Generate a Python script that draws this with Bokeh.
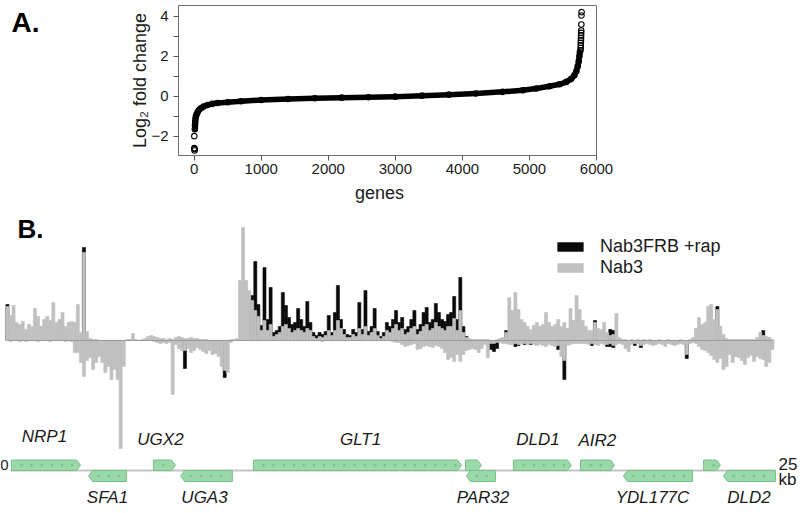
import numpy as np
from bokeh.plotting import figure
from bokeh.layouts import column, row
from bokeh.models import (Label, FixedTicker, Legend, LegendItem, Range1d, ColumnDataSource,
                          LinearAxis)
from bokeh.embed import file_html
from bokeh.resources import INLINE

FONT = "Liberation Sans"

# ---------------- Panel A data (genes ranked by log2 fold change) ----------------
rank_curve = [10, 12, 15, 19, 25, 35, 50, 70, 100, 140, 200, 270, 350, 500, 700, 1000,
              1400, 1800, 2200, 2600, 3000, 3400, 3800, 4200, 4600, 4900, 5100, 5300,
              5450, 5550, 5620, 5670, 5700, 5720, 5735, 5745, 5752]
lfc_curve = [-1.65, -1.45, -1.3, -1.15, -1.02, -0.92, -0.8, -0.7, -0.6, -0.51, -0.44, -0.38,
             -0.34, -0.30, -0.25, -0.19, -0.14, -0.10, -0.07, -0.05, -0.02, 0.03, 0.08, 0.14,
             0.22, 0.30, 0.39, 0.50, 0.60, 0.72, 0.86, 1.05, 1.25, 1.5, 1.75, 2.0, 2.2]
rank_tail = [2, 4, 5, 6, 5762, 5764, 5766, 5767, 5768, 5769, 5770, 5771, 5772, 5774, 5776, 5778]
lfc_tail = [-2.0, -2.6, -2.65, -2.72, 2.3, 2.42, 2.55, 2.68, 2.8, 2.92, 3.05, 3.18, 3.3, 3.6, 4.05, 4.22]
x_ticks = [0, 1000, 2000, 3000, 4000, 5000, 6000]
y_ticks = [-2, 0, 2, 4]
y_minor_ticks = [-1, 1, 3]

# ---------------- Panel B data (signal per 0.1 kb bin, arbitrary units) ----------------
gray_top = [34, 25, 35, 18, 16, 19, 11, 16, 14, 32,
            24, 14, 21, 24, 20, 38, 18, 21, 28, 14,
            18, 19, 18, 36, 8, 88, 9, 2, 1, 1,
            0, 0, 0, 0, 0, 0, 0, 0, 0, 1,
            1, 7, 1, 0, 1, 2, 4, 5, 4, 3,
            2, 2, 1, 2, 1, 3, 4, 3, 2, 2,
            3, 2, 2, 1, 1, 1, 0, 0, 0, 0,
            0, 0, 0, 1, 1, 2, 60, 113, 60, 50,
            40, 30, 24, 10, 20, 10, 16, 4, 6, 8,
            14, 16, 12, 8, 10, 12, 10, 8, 12, 10,
            4, 2, 4, 3, 5, 10, 5, 10, 20, 12,
            6, 3, 3, 6, 4, 12, 6, 14, 5, 8,
            12, 5, 2, 4, 10, 8, 12, 16, 10, 12,
            6, 8, 12, 14, 6, 9, 14, 16, 10, 12,
            18, 14, 12, 10, 14, 14, 22, 10, 30, 8,
            3, 2, 1, 1, 1, 1, 1, 1, 0, 0,
            1, 2, 3, 8, 43, 30, 48, 31, 21, 18,
            14, 11, 15, 18, 14, 16, 28, 18, 14, 16,
            21, 14, 18, 12, 32, 20, 45, 31, 20, 14,
            10, 10, 18, 12, 11, 18, 8, 5, 6, 27,
            3, 1, 1, 0, 1, 0, 1, 0, 1, 0,
            1, 0, 0, 1, 0, 0, 1, 0, 0, 0,
            1, 0, 0, 1, 3, 12, 23, 16, 18, 34,
            36, 21, 31, 14, 6, 2, 1, 1, 1, 1,
            1, 1, 1, 1, 1, 3, 8, 5, 4, 3,
            1]
gray_bot = [0, 1, 0, 0, 1, 0, 1, 0, 0, 0,
            1, 0, 0, 0, 1, 0, 0, 0, 0, 1,
            0, 1, 12, 12, 22, 36, 20, 17, 29, 22,
            16, 22, 32, 26, 39, 29, 39, 108, 26, 0,
            0, 0, 0, 0, 0, 0, 0, 0, 1, 2,
            3, 2, 3, 2, 54, 4, 8, 10, 10, 8,
            12, 10, 7, 9, 11, 13, 10, 14, 13, 16,
            26, 30, 32, 2, 0, 0, 0, 0, 0, 0,
            0, 0, 0, 0, 0, 0, 0, 0, 0, 0,
            0, 0, 0, 0, 0, 0, 0, 0, 0, 0,
            0, 0, 0, 1, 0, 0, 0, 0, 0, 0,
            0, 0, 0, 0, 0, 0, 0, 0, 0, 0,
            0, 0, 0, 0, 0, 0, 1, 2, 2, 4,
            6, 5, 4, 3, 9, 8, 6, 5, 6, 7,
            5, 6, 8, 12, 19, 17, 21, 14, 21, 14,
            10, 9, 8, 9, 12, 8, 4, 17, 3, 3,
            2, 2, 3, 3, 4, 4, 3, 4, 3, 3,
            4, 3, 4, 5, 4, 5, 6, 4, 5, 6,
            5, 16, 20, 5, 4, 3, 3, 3, 3, 3,
            4, 3, 4, 5, 3, 4, 4, 3, 5, 4,
            3, 4, 8, 11, 4, 3, 3, 5, 4, 3,
            4, 5, 4, 3, 4, 6, 3, 4, 5, 4,
            3, 4, 14, 3, 2, 3, 6, 9, 10, 12,
            15, 19, 22, 18, 29, 26, 14, 22, 16, 17,
            20, 24, 17, 15, 21, 16, 18, 19, 26, 22,
            9]
black_top = [36, 0, 0, 0, 0, 0, 0, 0, 0, 0,
             0, 0, 0, 0, 0, 0, 0, 0, 0, 0,
             0, 0, 0, 0, 0, 93, 0, 0, 0, 0,
             0, 0, 0, 0, 0, 0, 0, 0, 0, 0,
             0, 0, 0, 0, 0, 0, 0, 0, 0, 0,
             0, 0, 0, 0, 0, 0, 0, 0, 0, 0,
             0, 0, 0, 0, 0, 0, 0, 0, 0, 0,
             0, 0, 0, 0, 0, 0, 0, 0, 0, 0,
             45, 79, 36, 15, 73, 21, 53, 8, 10, 14,
             48, 35, 23, 16, 18, 32, 21, 14, 39, 18,
             8, 5, 8, 6, 9, 25, 8, 28, 55, 21,
             11, 6, 5, 11, 8, 38, 11, 50, 9, 14,
             32, 9, 4, 8, 18, 14, 21, 30, 18, 23,
             11, 14, 21, 30, 11, 16, 28, 33, 18, 21,
             37, 28, 21, 19, 26, 28, 44, 21, 63, 14,
             4, 0, 0, 0, 0, 0, 0, 0, 0, 0,
             0, 0, 0, 10, 0, 0, 0, 0, 0, 0,
             0, 0, 0, 0, 0, 0, 0, 0, 0, 0,
             0, 0, 0, 0, 0, 0, 0, 0, 0, 0,
             0, 0, 20, 0, 0, 0, 0, 11, 10, 0,
             0, 0, 0, 0, 0, 0, 0, 0, 0, 0,
             0, 0, 0, 0, 0, 0, 0, 0, 0, 0,
             0, 0, 0, 0, 0, 0, 0, 0, 0, 0,
             0, 0, 34, 0, 0, 0, 0, 0, 0, 0,
             0, 0, 0, 0, 0, 0, 0, 10, 0, 0,
             0]
black_bot = [0, 0, 0, 0, 0, 0, 0, 0, 0, 0,
             0, 0, 0, 0, 0, 0, 0, 0, 0, 0,
             0, 0, 0, 0, 0, 0, 0, 0, 0, 0,
             0, 0, 0, 0, 0, 0, 0, 0, 0, 0,
             0, 0, 0, 0, 0, 0, 0, 0, 0, 0,
             0, 0, 0, 0, 0, 0, 0, 0, 28, 0,
             0, 0, 0, 0, 0, 0, 0, 0, 0, 0,
             0, 37, 0, 0, 0, 0, 0, 0, 0, 0,
             0, 0, 0, 0, 0, 0, 0, 0, 0, 0,
             0, 0, 0, 0, 0, 0, 0, 0, 0, 0,
             0, 0, 0, 0, 0, 0, 0, 0, 0, 0,
             0, 0, 0, 0, 0, 0, 0, 0, 0, 0,
             0, 0, 0, 0, 0, 0, 0, 0, 0, 0,
             0, 0, 0, 0, 0, 0, 0, 0, 0, 0,
             0, 0, 0, 0, 0, 0, 0, 0, 0, 0,
             0, 0, 0, 0, 0, 0, 0, 0, 9, 11,
             8, 0, 0, 0, 0, 0, 6, 5, 0, 4,
             0, 4, 0, 0, 0, 0, 0, 0, 0, 0,
             9, 0, 39, 0, 0, 0, 0, 0, 0, 0,
             0, 5, 0, 0, 0, 0, 6, 6, 7, 0,
             0, 0, 0, 0, 0, 5, 0, 7, 0, 0,
             0, 0, 0, 0, 0, 0, 0, 0, 0, 0,
             0, 0, 18, 0, 0, 0, 0, 0, 0, 0,
             0, 0, 0, 0, 0, 0, 0, 0, 0, 0,
             0, 0, 0, 0, 0, 0, 0, 0, 0, 0,
             0]
bin_start_kb = -0.1
bin_kb = 0.1

gene_names = ["NRP1", "SFA1", "UGX2", "UGA3", "GLT1", "", "PAR32", "DLD1", "AIR2", "YDL177C", "", "DLD2"]
gene_start = [0.03, 2.55, 4.67, 5.56, 7.94, 14.87, 14.90, 16.44, 18.63, 20.03, 22.65, 23.30]
gene_end = [2.29, 3.79, 5.39, 7.25, 14.74, 15.39, 15.85, 18.33, 19.74, 22.29, 23.20, 25.0]
gene_strand = ["+", "-", "+", "-", "+", "+", "-", "+", "+", "-", "+", "-"]
label_kb = [1.11, 3.17, 4.90, 6.34, 11.44, None, 15.44, 17.24, 19.18, 20.98, None, 24.13]
region_kb = [0, 25]

# ======================= Panel A =======================
pA = figure(width=800, height=210, x_range=Range1d(-234, 6000), y_range=Range1d(-2.97, 4.55),
            output_backend="svg", toolbar_location=None,
            min_border_left=178, min_border_right=204, min_border_top=5, min_border_bottom=55)
pA.grid.visible = False
pA.outline_line_color = "#6f6f6f"
pA.outline_line_width = 1
pA.background_fill_color = "white"
pA.border_fill_color = "white"
pA.xaxis.ticker = FixedTicker(ticks=x_ticks, minor_ticks=[])
pA.yaxis.ticker = FixedTicker(ticks=y_ticks, minor_ticks=y_minor_ticks)
for ax in (pA.xaxis[0], pA.yaxis[0]):
    ax.axis_line_color = None
    ax.major_tick_line_color = "#555555"
    ax.minor_tick_line_color = "#555555"
    ax.major_tick_out = 5
    ax.major_tick_in = 0
    ax.minor_tick_out = 5
    ax.minor_tick_in = 0
    ax.major_label_text_font = FONT
    ax.major_label_text_font_size = "15px"
    ax.major_label_text_color = "#1a1a1a"
pA.xaxis[0].major_label_standoff = 3
pA.yaxis[0].major_label_standoff = 5
pA.yaxis[0].axis_label = "Log\u2082 fold change"
pA.yaxis[0].axis_label_text_font = FONT
pA.yaxis[0].axis_label_text_font_size = "18px"
pA.yaxis[0].axis_label_text_font_style = "normal"
pA.yaxis[0].axis_label_text_color = "#1a1a1a"
pA.yaxis[0].axis_label_standoff = -2

# "genes" label carried by a second, tick-less x axis
genes_axis = LinearAxis(ticker=FixedTicker(ticks=[2764], minor_ticks=[]),
                        major_label_overrides={2764: "genes"},
                        major_label_text_font=FONT, major_label_text_font_size="18px",
                        major_label_text_color="#1a1a1a", major_label_standoff=0,
                        axis_line_color=None, major_tick_line_color=None,
                        minor_tick_line_color=None)
pA.add_layout(genes_axis, "below")

# "A." panel tag carried by a second, tick-less y axis
tag_axis = LinearAxis(ticker=FixedTicker(ticks=[3.7], minor_ticks=[]),
                      major_label_overrides={3.7: "A."},
                      major_label_text_font=FONT, major_label_text_font_size="28px",
                      major_label_text_font_style="bold", major_label_text_color="black",
                      major_label_standoff=82,
                      axis_line_color=None, major_tick_line_color=None,
                      minor_tick_line_color=None)
pA.add_layout(tag_axis, "left")

pA.line(rank_curve, lfc_curve, line_width=5.5, line_color="black", line_join="round", line_cap="round")
pA.scatter(rank_curve, lfc_curve, marker="circle", size=5.5, fill_color=None,
           line_color="black", line_width=1.1)
pA.scatter(rank_tail, lfc_tail, marker="circle", size=5.5, fill_color=None,
           line_color="black", line_width=1.1)


def make_label(text, x, y, size, **kw):
    opts = dict(text_font=FONT, text_font_size=size, text_color="#1a1a1a")
    opts.update(kw)
    return Label(x=x, y=y, text=text, **opts)


# ======================= Panel B =======================
pB = figure(width=800, height=303, x_range=Range1d(-0.3268, 25.817), y_range=Range1d(-173, 130),
            output_backend="svg", toolbar_location=None,
            min_border_left=0, min_border_right=0, min_border_top=0, min_border_bottom=0)
pB.axis.visible = False
pB.grid.visible = False
pB.outline_line_color = None
pB.background_fill_color = "white"
pB.border_fill_color = "white"

pos_kb = [round(bin_start_kb + i * bin_kb, 3) for i in range(len(gray_top))]
src = ColumnDataSource(dict(x=pos_kb, gt=gray_top, gb=[-v for v in gray_bot],
                            bt=black_top, bb=[-v for v in black_bot]))
GRAY = "#c0c0c0"
rb1 = pB.vbar(x="x", top="bt", bottom=0, width=bin_kb, source=src,
              fill_color="#0a0a0a", line_color="#0a0a0a", line_width=0.6)
pB.vbar(x="x", top=0, bottom="bb", width=bin_kb, source=src,
        fill_color="#0a0a0a", line_color="#0a0a0a", line_width=0.6)
rg1 = pB.vbar(x="x", top="gt", bottom=0, width=bin_kb, source=src,
              fill_color=GRAY, line_color=GRAY, line_width=0.6)
pB.vbar(x="x", top=0, bottom="gb", width=bin_kb, source=src,
        fill_color=GRAY, line_color=GRAY, line_width=0.6)
pB.line([pos_kb[0], pos_kb[-1]], [0, 0], line_color="#9a9a9a", line_width=1)

legend = Legend(items=[LegendItem(label="Nab3FRB +rap", renderers=[rb1]),
                       LegendItem(label="Nab3", renderers=[rg1])],
                location=(554, 235), orientation="vertical",
                glyph_width=32, glyph_height=11, label_standoff=14,
                label_text_font=FONT, label_text_font_size="18px", label_text_color="#1a1a1a",
                label_height=21, spacing=0, padding=0, margin=0,
                border_line_color=None, background_fill_alpha=0)
pB.add_layout(legend)

# gene track
ROW_TOP = (-119.5, -130.0)
ROW_BOT = (-130.0, -141.0)
TIP = 0.13
pB.line(region_kb, [-130, -130], line_color="#c4c4c4", line_width=2)
xs, ys = [], []
mx, my, ma = [], [], []
for s, e, st in zip(gene_start, gene_end, gene_strand):
    if st == "+":
        lo, hi = ROW_TOP[1], ROW_TOP[0]
        mid = (lo + hi) / 2
        xs.append([s, e - TIP, e, e - TIP, s])
        ys.append([lo, lo, mid, hi, hi])
        ang = -np.pi / 2
    else:
        lo, hi = ROW_BOT[1], ROW_BOT[0]
        mid = (lo + hi) / 2
        xs.append([s, s + TIP, e, e, s + TIP])
        ys.append([mid, hi, hi, lo, lo])
        ang = np.pi / 2
    for m in np.arange(s + 0.33, e - 0.2, 0.33):
        mx.append(m)
        my.append(mid)
        ma.append(ang)
pB.patches(xs, ys, fill_color="#9ad8a8", line_color="#74c28a", line_width=1)
pB.scatter(mx, my, marker="triangle", size=3.5, angle=ma, fill_color="#5fae74",
           line_color=None, fill_alpha=0.6)

for name, lx, st in zip(gene_names, label_kb, gene_strand):
    if not name:
        continue
    if st == "+":
        yy = {"NRP1": -105, "AIR2": -109}.get(name, -108)
    else:
        yy = -166.5
    pB.add_layout(make_label(name, lx, yy, "17px", text_font_style="italic", text_align="center"))

pB.add_layout(make_label("B.", 0.229, 97, "26px", text_font_style="bold", text_color="black"))
pB.add_layout(make_label("0", -0.065, -129, "15px", text_align="right"))
pB.add_layout(make_label("25", 25.1, -129, "17px"))
pB.add_layout(make_label("kb", 25.1, -148, "17px"))

layout = column(row(pA), row(pB), spacing=0)
open("out.html", "w").write(file_html(layout, INLINE))
